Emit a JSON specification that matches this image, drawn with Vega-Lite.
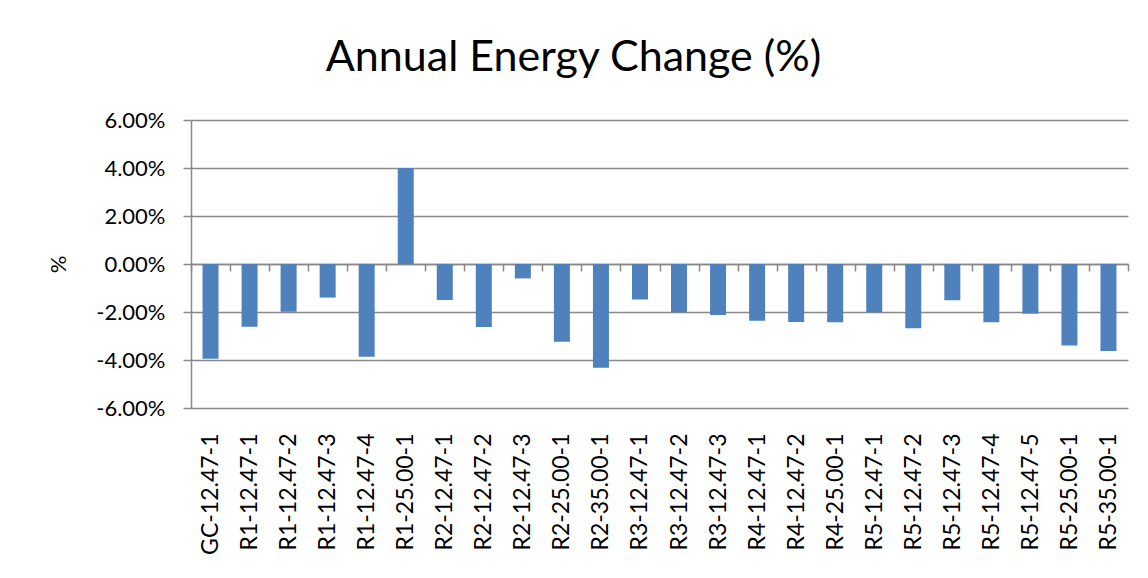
{
  "$schema": "https://vega.github.io/schema/vega-lite/v6.json",
  "autosize": {"type": "none"},
  "width": 937,
  "height": 288,
  "padding": {"left": 191, "top": 120, "right": 20, "bottom": 170},
  "background": "white",
  "title": {
    "text": "Annual Energy Change (%)",
    "font": "Lato",
    "fontSize": 43,
    "fontWeight": "normal",
    "color": "black",
    "anchor": "middle",
    "frame": "group",
    "baseline": "alphabetic",
    "dx": -86,
    "offset": -5
  },
  "data": {
    "values": [
      {"case": "GC-12.47-1", "value": -0.0395},
      {"case": "R1-12.47-1", "value": -0.0261},
      {"case": "R1-12.47-2", "value": -0.0199},
      {"case": "R1-12.47-3", "value": -0.0140},
      {"case": "R1-12.47-4", "value": -0.0386},
      {"case": "R1-25.00-1", "value": 0.0400},
      {"case": "R2-12.47-1", "value": -0.0150},
      {"case": "R2-12.47-2", "value": -0.0263},
      {"case": "R2-12.47-3", "value": -0.0060},
      {"case": "R2-25.00-1", "value": -0.0324},
      {"case": "R2-35.00-1", "value": -0.0432},
      {"case": "R3-12.47-1", "value": -0.0148},
      {"case": "R3-12.47-2", "value": -0.0201},
      {"case": "R3-12.47-3", "value": -0.0213},
      {"case": "R4-12.47-1", "value": -0.0236},
      {"case": "R4-12.47-2", "value": -0.0242},
      {"case": "R4-25.00-1", "value": -0.0243},
      {"case": "R5-12.47-1", "value": -0.0201},
      {"case": "R5-12.47-2", "value": -0.0268},
      {"case": "R5-12.47-3", "value": -0.0151},
      {"case": "R5-12.47-4", "value": -0.0243},
      {"case": "R5-12.47-5", "value": -0.0207},
      {"case": "R5-25.00-1", "value": -0.0340},
      {"case": "R5-35.00-1", "value": -0.0363}
    ]
  },
  "mark": {"type": "bar", "color": "#4F81BD", "width": {"band": 0.41}},
  "encoding": {
    "x": {
      "field": "case",
      "type": "nominal",
      "sort": null,
      "scale": {"paddingInner": 0, "paddingOuter": 0},
      "axis": {
        "title": null,
        "labelAngle": -90,
        "labelFont": "Lato",
        "labelFontSize": 23,
        "labelColor": "black",
        "offset": -144,
        "tickBand": "extent",
        "tickSize": 7,
        "tickWidth": 1.5,
        "tickColor": "#898989",
        "domainColor": "#898989",
        "domainWidth": 1.5,
        "labelPadding": 162,
        "grid": false
      }
    },
    "y": {
      "field": "value",
      "type": "quantitative",
      "scale": {"domain": [-0.06, 0.06], "nice": false},
      "axis": {
        "values": [-0.06, -0.04, -0.02, 0, 0.02, 0.04, 0.06],
        "labelExpr": "replace(format(datum.value, '.2%'), '\u2212', '-')",
        "labelFont": "Lato",
        "labelFontSize": 22,
        "labelColor": "black",
        "labelPadding": 18,
        "tickSize": 8,
        "tickWidth": 1.5,
        "tickColor": "#898989",
        "domainColor": "#898989",
        "domainWidth": 1.5,
        "grid": true,
        "gridColor": "#898989",
        "gridWidth": 1.5,
        "title": "%",
        "titleFont": "Lato",
        "titleFontSize": 22,
        "titleFontWeight": "normal",
        "titleColor": "black",
        "titleX": -133,
        "titleY": 144,
        "titleAlign": "center",
        "titleBaseline": "middle",
        "titleAngle": -90
      }
    }
  },
  "config": {"view": {"stroke": null}}
}
